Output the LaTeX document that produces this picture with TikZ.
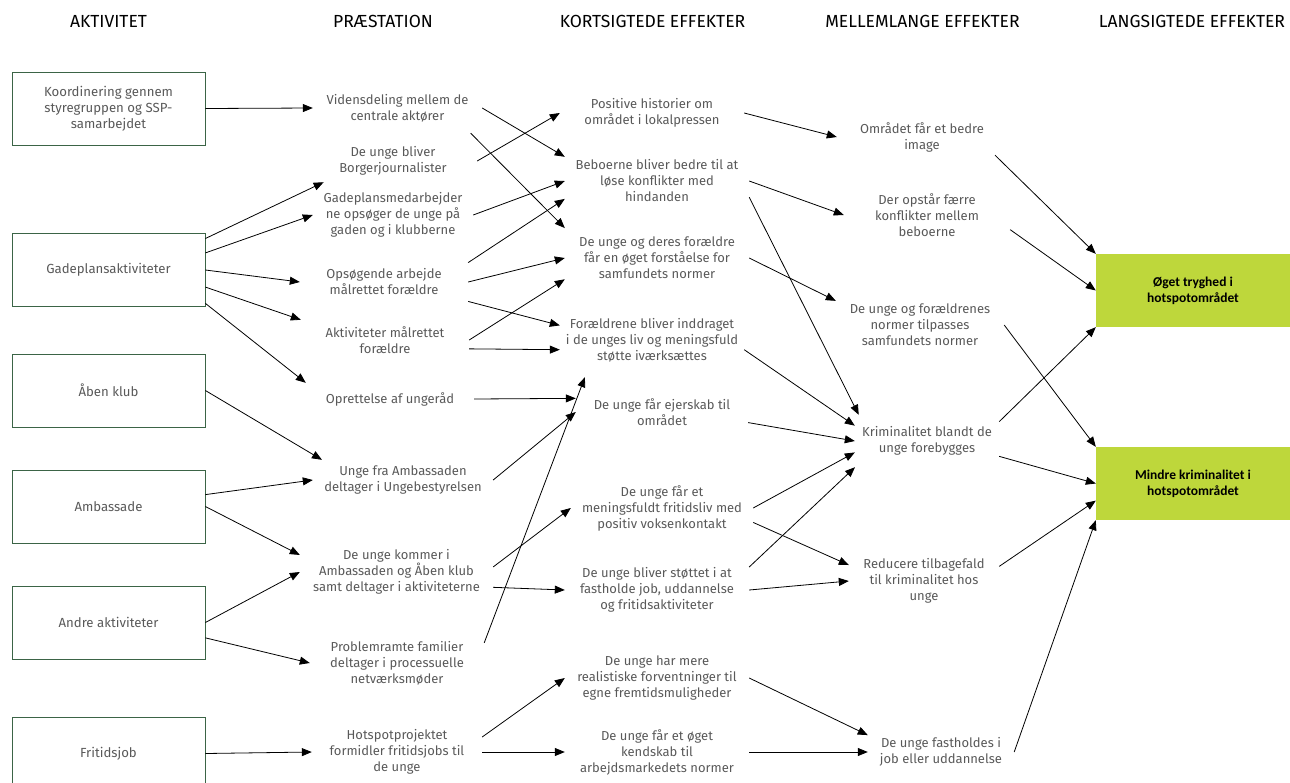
\documentclass[tikz,border=0pt]{standalone}
\usepackage{fontspec}
\setmainfont{Fira Sans}
\newfontfamily\goalfont{Carlito}
\usetikzlibrary{arrows.meta}
\definecolor{textgrey}{HTML}{595959}
\definecolor{boxgreen}{HTML}{3B6446}
\definecolor{goalgreen}{HTML}{BED73B}

\begin{document}
\begin{tikzpicture}[x=1pt,y=-1pt]
	\tikzset{head/.style={font=\fontsize{17.5}{20}\selectfont,text=black}}
	\tikzset{actbox/.style={draw=boxgreen,line width=0.8pt,minimum width=193pt,minimum height=73pt,align=center,text=textgrey,font=\fontsize{13.2}{16}\selectfont}}
	\tikzset{txt/.style={align=center,text=textgrey,inner sep=0pt,font=\fontsize{13}{16}\selectfont}}
	\tikzset{goal/.style={fill=goalgreen,minimum width=194pt,minimum height=73pt,align=center,font=\goalfont\bfseries\fontsize{13.5}{16}\selectfont}}
	\tikzset{arr/.style={-{Triangle[length=10pt,width=8pt]},line width=0.8pt}}
	\useasboundingbox (0,0) rectangle (1290,782);
	\node[head] (haktivitet) at (108.5,21) {AKTIVITET};
	\node[head] (hpraestation) at (383,21) {PRÆSTATION};
	\node[head] (hkort) at (652.5,21) {KORTSIGTEDE EFFEKTER};
	\node[head] (hmellem) at (922.5,21) {MELLEMLANGE EFFEKTER};
	\node[head] (hlang) at (1192,21) {LANGSIGTEDE EFFEKTER};
	\node[actbox] (koord) at (108.5,108.5) {Koordinering gennem\\styregruppen og SSP-\\samarbejdet};
	\node[actbox] (gade) at (108.5,270) {Gadeplansaktiviteter};
	\node[actbox] (aaben) at (108.5,390.5) {Åben klub};
	\node[actbox] (amba) at (108.5,506.5) {Ambassade};
	\node[actbox] (andre) at (108.5,622.5) {Andre aktiviteter};
	\node[actbox] (fritid) at (108.5,753.5) {Fritidsjob};
	\node[txt,minimum width=169pt,minimum height=50pt] (viden) at (397.5,108) {Vidensdeling mellem de\\centrale aktører};
	\node[txt,minimum width=168pt,minimum height=42pt] (borger) at (393,161) {De unge bliver\\Borgerjournalister};
	\node[txt,minimum width=160pt,minimum height=50pt] (gadem) at (393,215) {Gadeplansmedarbejder\\ne opsøger de unge på\\gaden og i klubberne};
	\node[txt,minimum width=168pt,minimum height=56pt] (opsog) at (384,282) {Opsøgende arbejde\\målrettet forældre};
	\node[txt,minimum width=168pt,minimum height=40pt] (aktfor) at (385,340) {Aktiviteter målrettet\\forældre};
	\node[txt,minimum width=168pt,minimum height=32pt] (ungerad) at (390,399) {Oprettelse af ungeråd};
	\node[txt,minimum width=180pt,minimum height=40pt] (ungefra) at (403,480) {Unge fra Ambassaden\\deltager i Ungebestyrelsen};
	\node[txt,minimum width=193pt,minimum height=60pt] (kommer) at (396.5,572) {De unge kommer i\\Ambassaden og Åben klub\\samt deltager i aktiviteterne};
	\node[txt,minimum width=174pt,minimum height=44pt] (familier) at (397,663) {Problemramte familier\\deltager i processuelle\\netværksmøder};
	\node[txt,minimum width=170pt,minimum height=44pt] (hotspot) at (397,752) {Hotspotprojektet\\formidler fritidsjobs til\\de unge};
	\node[txt,minimum width=184pt,minimum height=36pt] (positiv) at (652,113) {Positive historier om\\området i lokalpressen};
	\node[txt,minimum width=184pt,minimum height=48pt] (beboer) at (657,181) {Beboerne bliver bedre til at\\løse konflikter med\\hindanden};
	\node[txt,minimum width=184pt,minimum height=60pt] (normer) at (657,258) {De unge og deres forældre\\får en øget forståelse for\\samfundets normer};
	\node[txt,minimum width=184pt,minimum height=74pt] (foraeldre) at (652,340) {Forældrene bliver inddraget\\i de unges liv og meningsfuld\\støtte iværksættes};
	\node[txt,minimum width=172pt,minimum height=40pt] (ejerskab) at (662,412) {De unge får ejerskab til\\området};
	\node[txt,minimum width=182pt,minimum height=50pt] (fritidsliv) at (662,508) {De unge får et\\meningsfuldt fritidsliv med\\positiv voksenkontakt};
	\node[txt,minimum width=184pt,minimum height=50pt] (stoettet) at (657,590) {De unge bliver støttet i at\\fastholde job, uddannelse\\og fritidsaktiviteter};
	\node[txt,minimum width=184pt,minimum height=50pt] (forvent) at (657,678) {De unge har mere\\realistiske forventninger til\\egne fremtidsmuligheder};
	\node[txt,minimum width=184pt,minimum height=50pt] (kendskab) at (657,752) {De unge får et øget\\kendskab til\\arbejdsmarkedets normer};
	\node[txt,minimum width=170pt,minimum height=36pt] (image) at (922,137) {Området får et bedre\\image};
	\node[txt,minimum width=166pt,minimum height=50pt] (konflikt) at (927,215) {Der opstår færre\\konflikter mellem\\beboerne};
	\node[txt,minimum width=168pt,minimum height=50pt] (tilpas) at (920,325) {De unge og forældrenes\\normer tilpasses\\samfundets normer};
	\node[txt,minimum width=144pt,minimum height=52pt] (forebyg) at (927,441) {Kriminalitet blandt de\\unge forebygges};
	\node[txt,minimum width=150pt,minimum height=48pt] (tilbage) at (924,581) {Reducere tilbagefald\\til kriminalitet hos\\unge};
	\node[txt,minimum width=146pt,minimum height=40pt] (fasthold) at (941,752) {De unge fastholdes i\\job eller uddannelse};
	\node[goal] (tryghed) at (1193,290.5) {Øget tryghed i\\hotspotområdet};
	\node[goal] (mindre) at (1193,483.5) {Mindre kriminalitet i\\hotspotområdet};
	\draw[arr] (koord.east) -- (viden.west);
	\draw[arr] (gade.18) -- (borger.-163);
	\draw[arr] (gade.10) -- (gadem.west);
	\draw[arr] (gade.east) -- (opsog.west);
	\draw[arr] (gade.-10) -- (aktfor.north west);
	\draw[arr] (gade.-19) -- (ungerad.north west);
	\draw[arr] (aaben.east) -- (ungefra.166);
	\draw[arr] (amba.7) -- (ungefra.west);
	\draw[arr] (amba.east) -- (kommer.170);
	\draw[arr] (andre.east) -- (kommer.west);
	\draw[arr] (andre.-9) -- (familier.west);
	\draw[arr] (fritid.east) -- (hotspot.west);
	\draw[arr] (viden.east) -- (beboer.north west);
	\draw[arr] (viden.-19) -- (normer.162);
	\draw[arr] (borger.east) -- (positiv.west);
	\draw[arr] (gadem.east) -- (beboer.west);
	\draw[arr] (opsog.13) -- (beboer.-169);
	\draw[arr] (opsog.east) -- (normer.west);
	\draw[arr] (opsog.-13) -- (foraeldre.171);
	\draw[arr] (aktfor.east) -- (normer.-167);
	\draw[arr] (aktfor.-6) -- (foraeldre.-174);
	\draw[arr] (ungerad.east) -- (ejerskab.171);
	\draw[arr] (ungefra.east) -- (ejerskab.west);
	\draw[arr] (kommer.3) -- (fritidsliv.west);
	\draw[arr] (kommer.-9) -- (stoettet.west);
	\draw[arr] (familier.13) -- (foraeldre.-151);
	\draw[arr] (hotspot.10) -- (forvent.west);
	\draw[arr] (hotspot.east) -- (kendskab.west);
	\draw[arr] (positiv.east) -- (image.west);
	\draw[arr] (beboer.east) -- (konflikt.west);
	\draw[arr] (beboer.-10) -- (forebyg.159);
	\draw[arr] (normer.east) -- (tilpas.164);
	\draw[arr] (foraeldre.-6) -- (forebyg.168);
	\draw[arr] (ejerskab.-7) -- (forebyg.west);
	\draw[arr] (fritidsliv.east) -- (forebyg.-171);
	\draw[arr] (fritidsliv.-9) -- (tilbage.168);
	\draw[arr] (stoettet.14) -- (forebyg.-160);
	\draw[arr] (stoettet.east) -- (tilbage.west);
	\draw[arr] (forvent.east) -- (fasthold.167);
	\draw[arr] (kendskab.east) -- (fasthold.west);
	\draw[arr] (image.-14) -- (tryghed.north west);
	\draw[arr] (konflikt.-10) -- (tryghed.west);
	\draw[arr] (tilpas.east) -- (mindre.north west);
	\draw[arr] (forebyg.15) -- (tryghed.south west);
	\draw[arr] (forebyg.-12) -- (mindre.west);
	\draw[arr] (tilbage.11) -- (mindre.-170);
	\draw[arr] (fasthold.east) -- (mindre.south west);
\end{tikzpicture}
\end{document}
